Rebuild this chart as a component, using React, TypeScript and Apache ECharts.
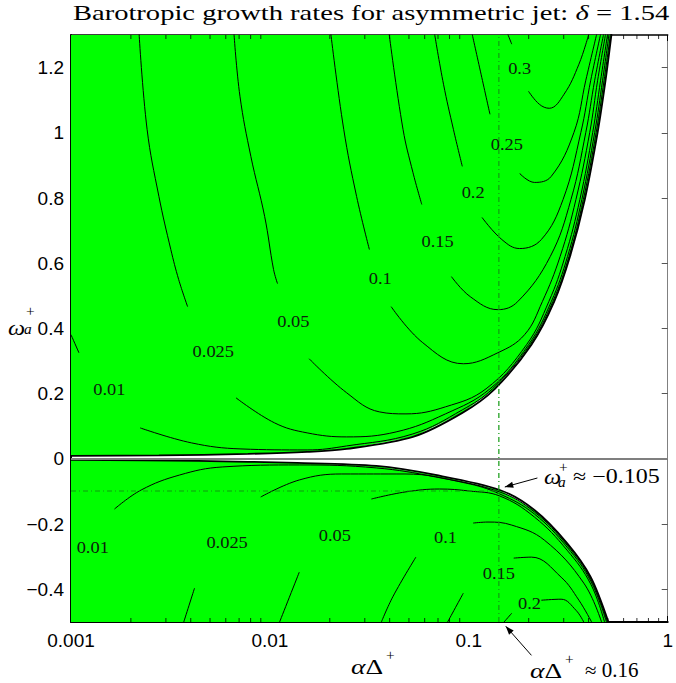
import React, { useEffect, useRef } from "react";
import * as echarts from "echarts";

// ---------- axes ----------
const xMin = 0.001;
const xMax = 1;
const yMin = -0.5;
const yMax = 1.3;
const yTicks = [-0.4, -0.2, 0, 0.2, 0.4, 0.6, 0.8, 1, 1.2];
const xMinorTicks = [
  0.002, 0.003, 0.004, 0.005, 0.006, 0.007, 0.008, 0.009,
  0.02, 0.03, 0.04, 0.05, 0.06, 0.07, 0.08, 0.09,
  0.2, 0.3, 0.4, 0.5, 0.6, 0.7, 0.8, 0.9,
];

// ---------- unstable-region boundaries ----------
const upperBoundary = [
  [0.001, 0.0092], [0.002767, 0.0108], [0.007749, 0.0154], [0.015394, 0.0215],
  [0.024322, 0.0307], [0.052356, 0.0676], [0.092743, 0.1413], [0.13527, 0.2151],
  [0.20654, 0.3502], [0.2687, 0.4823], [0.32262, 0.6206], [0.38297, 0.7957],
  [0.44443, 1.0015], [0.4871, 1.1613], [0.52166, 1.3026],
];
const lowerBoundary = [
  [0.001, -0.0031], [0.004373, -0.0061], [0.013732, -0.0123], [0.034277, -0.0215],
  [0.068095, -0.0492], [0.14322, -0.0952], [0.21373, -0.1567], [0.31173, -0.2581],
  [0.4103, -0.3625], [0.50403, -0.5008],
];

// ---------- upper contours (omega > 0) ----------
const up010A = [[0.001, 0.381], [0.001096, 0.3257]];
const up010B = [
  [0.002227, 0.0952], [0.004037, 0.0492], [0.007153, 0.0307], [0.015394, 0.0276],
  [0.024322, 0.0399], [0.052356, 0.0768], [0.092743, 0.1505], [0.13147, 0.2151],
  [0.203, 0.3502], [0.2642, 0.4823], [0.31893, 0.6206], [0.37652, 0.7957],
  [0.43692, 1.0015], [0.47873, 1.1613], [0.51575, 1.3026],
];
const up025A = [
  [0.0022, 1.3026], [0.002413, 1.0108], [0.002767, 0.8049], [0.003176, 0.6421],
  [0.003479, 0.5499], [0.003857, 0.467],
];
const up025B = [
  [0.006753, 0.1874], [0.010554, 0.1106], [0.015394, 0.0799], [0.024322, 0.0676],
  [0.043094, 0.0829], [0.076343, 0.1382], [0.12776, 0.2151], [0.19953, 0.3502],
  [0.2597, 0.4823], [0.31354, 0.6206], [0.37007, 0.7957], [0.42946, 1.0015],
  [0.47054, 1.1613], [0.50699, 1.3026],
];
const up050A = [
  [0.0066, 1.3026], [0.007071, 1.1121], [0.00802, 0.9278], [0.009412, 0.7435],
  [0.010433, 0.5806], [0.010921, 0.5376],
];
const up050B = [
  [0.015749, 0.3072], [0.024322, 0.2028], [0.035474, 0.1444], [0.048325, 0.1382],
  [0.076343, 0.1598], [0.12208, 0.2151], [0.19503, 0.3502], [0.2524, 0.4823],
  [0.30472, 0.6206], [0.36172, 0.7957], [0.41975, 1.0015], [0.45993, 1.1613],
  [0.49841, 1.3026],
];
const up100A = [[0.020253, 1.3026], [0.023505, 1.0108], [0.027279, 0.8049], [0.031638, 0.6421]];
const up100B = [
  [0.040695, 0.467], [0.058694, 0.3564], [0.093817, 0.2919], [0.14001, 0.3257],
  [0.1907, 0.381], [0.23423, 0.4823], [0.28774, 0.6206], [0.34565, 0.7957],
  [0.40551, 1.0015], [0.44443, 1.1613], [0.4871, 1.3026],
];
const up150A = [[0.039774, 1.3026], [0.046691, 1.0108], [0.052356, 0.8787], [0.058022, 0.7803]];
const up150B = [
  [0.08177, 0.5591], [0.10162, 0.4977], [0.14001, 0.4578], [0.17601, 0.4823],
  [0.25663, 0.6206], [0.32637, 0.7957], [0.38752, 1.0015], [0.42946, 1.1613],
  [0.47607, 1.3026],
];
const up200A = [[0.067316, 1.3026], [0.074611, 1.149], [0.08366, 1.0108], [0.092743, 0.8971]];
const up200B = [
  [0.11657, 0.7404], [0.14658, 0.6728], [0.18008, 0.6452], [0.23152, 0.6728],
  [0.29778, 0.7957], [0.36599, 1.0015], [0.4103, 1.1613], [0.45993, 1.3026],
];
const up250A = [[0.10397, 1.3026], [0.11524, 1.1797], [0.12776, 1.0568]];
const up250B = [
  [0.18008, 0.8756], [0.21373, 0.8479], [0.25959, 0.8664], [0.33784, 1.0015],
  [0.38752, 1.1613], [0.43944, 1.3026],
];
const up300A = [[0.15699, 1.3026], [0.16436, 1.2719]];
const up300B = [
  [0.19953, 1.1275], [0.22629, 1.0876], [0.25373, 1.0753], [0.30121, 1.1183],
  [0.3577, 1.2104], [0.40103, 1.3026],
];

// ---------- lower contours (omega < 0) ----------
const lo010B = [
  [0.001654, -0.1536], [0.002253, -0.0952], [0.003519, -0.0492], [0.005757, -0.0246],
  [0.01405, -0.0184], [0.034277, -0.0276], [0.068095, -0.0553], [0.14322, -0.1014],
  [0.21373, -0.1628], [0.31173, -0.2642], [0.4103, -0.3687], [0.49841, -0.5008],
];
const lo025A = [[0.003685, -0.5008], [0.004178, -0.3963]];
const lo025B = [
  [0.008991, -0.1167], [0.01405, -0.0645], [0.022977, -0.0461], [0.047772, -0.0461],
  [0.09598, -0.0737], [0.14322, -0.1075], [0.21373, -0.169], [0.31173, -0.2704],
  [0.4103, -0.3748], [0.49273, -0.5008],
];
const lo050A = [[0.011174, -0.5008], [0.01405, -0.3472]];
const lo050B = [
  [0.032374, -0.1229], [0.047772, -0.1014], [0.071285, -0.0922], [0.10046, -0.0983],
  [0.14322, -0.1137], [0.21373, -0.1782], [0.31173, -0.2796], [0.4103, -0.384],
  [0.48156, -0.5008],
];
const lo100A = [[0.0363, -0.5008], [0.041638, -0.4209], [0.054184, -0.3011]];
const lo100B = [
  [0.10516, -0.1966], [0.12488, -0.1935], [0.16436, -0.2028], [0.23962, -0.2488],
  [0.37874, -0.381], [0.46531, -0.5008],
];
const lo150A = [[0.07811, -0.5008], [0.093817, -0.4117]];
const lo150B = [
  [0.16815, -0.3041], [0.20654, -0.3011], [0.29103, -0.3625], [0.3577, -0.4332],
  [0.415, -0.5008],
];
const lo200A = [[0.14998, -0.5008], [0.16436, -0.4731]];
const lo200B = [[0.23152, -0.4332], [0.29103, -0.4301], [0.34565, -0.4639], [0.37874, -0.5008]];

// ---------- contour labels ----------
const upperLevels = ["0.01", "0.025", "0.05", "0.1", "0.15", "0.2", "0.25", "0.3"];
const upperLabelX = [0.00156, 0.005193, 0.013115, 0.035885, 0.069664, 0.10516, 0.15522, 0.18008];
const upperLabelY = [0.212, 0.3287, 0.4209, 0.553, 0.6667, 0.8172, 0.9616, 1.1951];
const lowerLevels = ["0.01", "0.025", "0.05", "0.1", "0.15", "0.2"];
const lowerLabelX = [0.001286, 0.006094, 0.021207, 0.076343, 0.14159, 0.20184];
const lowerLabelY = [-0.2734, -0.2581, -0.2366, -0.2427, -0.3533, -0.4455];

// ---------- reference lines / annotations ----------
const zeroLine = [[0.001, 0], [1, 0]];
const markAlpha = 0.1416;
const markOmega = -0.0983;
const arrowOmega = [[0.2212, -0.0584], [0.1517, -0.086]];
const arrowAlpha = [[0.2065, -0.6022], [0.1534, -0.5131]];

const contourPieces = [
  up010A, up010B, up025A, up025B, up050A, up050B, up100A, up100B, up150A, up150B,
  up200A, up200B, up250A, up250B, up300A, up300B,
  lo010B, lo025A, lo025B, lo050A, lo050B, lo100A, lo100B, lo150A, lo150B, lo200A, lo200B,
];

const SERIF = "Liberation Serif";
const SANS = "Liberation Sans";

function T(
  x: number, y: number, text: string, size: number,
  italic = false, sx = 1.2, rich: any = null, align = "left"
) {
  const style: any = {
    text,
    fontFamily: SERIF,
    fontSize: size,
    fontStyle: italic ? "italic" : "normal",
    fill: "#000000",
    align,
    verticalAlign: "middle",
  };
  if (rich) style.rich = rich;
  return { type: "text", x, y, scaleX: sx, silent: true, style };
}

const italicRich = (size: number) => ({
  i: { fontFamily: SERIF, fontSize: size, fontStyle: "italic", fill: "#000000" },
});

export default function App() {
  const ref = useRef<HTMLDivElement>(null);
  useEffect(() => {
    if (!ref.current) return;
    const chart = echarts.init(ref.current, undefined, { renderer: "svg" });
    const regions = [
      [...upperBoundary, [0.001, 1.3026]],
      [...lowerBoundary, [0.001, -0.5008]],
    ];
    const arrows = [arrowOmega, arrowAlpha];
    const labelSeries = (xs: number[], ys: number[], texts: string[]) => ({
      type: "custom",
      clip: false,
      silent: true,
      z: 8,
      data: xs.map((x, i) => [x, ys[i]]),
      renderItem: (params: any, api: any) => {
        const p = api.coord([api.value(0), api.value(1)]);
        return {
          type: "text",
          x: p[0],
          y: p[1],
          scaleX: 1.15,
          style: {
            text: texts[params.dataIndex],
            fontFamily: SERIF,
            fontSize: 16,
            fill: "#0d200d",
            align: "center",
            verticalAlign: "middle",
          },
        };
      },
    });
    const fmtY = (v: number) => {
      const r = Number(v.toFixed(2));
      return r < 0 ? "\u2212" + String(Math.abs(r)) : String(r);
    };
    const fmtX = (v: number) => String(Number(Number(v).toPrecision(4)));
    const option: any = {
      animation: false,
      backgroundColor: "#fff",
      grid: { left: 71, right: 1, top: 35, bottom: 61, containLabel: false },
      xAxis: [
        {
          type: "log",
          logBase: 10,
          min: xMin,
          max: xMax,
          position: "bottom",
          axisLine: { show: true, onZero: false, lineStyle: { color: "#000", width: 2 } },
          axisTick: { show: true, inside: true, length: 6, lineStyle: { color: "#000", width: 1 } },
          axisLabel: { show: true, fontFamily: SANS, fontSize: 19, color: "#000", margin: 9, formatter: fmtX },
          splitLine: { show: false },
        },
        {
          type: "log",
          logBase: 10,
          min: xMin,
          max: xMax,
          position: "top",
          axisLine: { show: true, onZero: false, lineStyle: { color: "#000", width: 1.5 } },
          axisTick: { show: true, inside: true, length: 6, lineStyle: { color: "#000", width: 1 } },
          axisLabel: { show: false },
          splitLine: { show: false },
        },
      ],
      yAxis: [
        {
          type: "value",
          min: yMin,
          max: yMax,
          position: "left",
          axisLine: { show: true, onZero: false, lineStyle: { color: "#000", width: 2 } },
          axisTick: { show: true, inside: true, length: 6, customValues: yTicks, lineStyle: { color: "#000" } },
          axisLabel: { show: true, customValues: yTicks, fontFamily: SANS, fontSize: 19, color: "#000", margin: 7, formatter: fmtY },
          splitLine: { show: false },
        },
        {
          type: "value",
          min: yMin,
          max: yMax,
          position: "right",
          axisLine: { show: true, onZero: false, lineStyle: { color: "#808080", width: 1 } },
          axisTick: { show: true, inside: true, length: 6, customValues: yTicks, lineStyle: { color: "#555" } },
          axisLabel: { show: false },
          splitLine: { show: false },
        },
      ],
      graphic: [
        T(371, 13, "Barotropic growth rates for asymmetric jet: {i|\u03b4} = 1.54", 21, false, 1.36, italicRich(21), "center"),
        // y-axis name
        T(8, 327, "\u03c9", 22, true, 1.1),
        T(26, 311, "+", 14, false, 1.1),
        T(24, 329, "a", 14, true, 1.1),
        // x-axis name
        T(351, 666, "{i|\u03b1}\u0394", 22, false, 1.25, italicRich(22)),
        T(386, 655, "+", 14, false, 1.1),
        // omega annotation
        T(544, 476, "\u03c9", 22, true, 1.1),
        T(559, 467, "+", 14, false, 1.1),
        T(558, 482, "a", 14, true, 1.1),
        T(573, 476, "\u2248 \u22120.105", 20, false, 1.2),
        // alpha annotation
        T(530, 670, "{i|\u03b1}\u0394", 22, false, 1.25, italicRich(22)),
        T(565, 659, "+", 14, false, 1.1),
        T(585, 670, "\u2248 0.16", 20, false, 1.05),
      ],
      series: [
        {
          type: "custom",
          clip: true,
          silent: true,
          z: 1,
          data: [[0.01, 0.5], [0.01, -0.3]],
          renderItem: (params: any, api: any) => {
            const pts = regions[params.dataIndex].map((p) => api.coord(p));
            return { type: "polygon", shape: { points: pts }, style: { fill: "#00ff00", stroke: "none" } };
          },
        },
        ...contourPieces.map((d) => ({
          type: "line",
          data: d,
          showSymbol: false,
          symbol: "none",
          smooth: 0.4,
          clip: true,
          silent: true,
          z: 3,
          lineStyle: { color: "#000", width: 1 },
        })),
        ...[upperBoundary, lowerBoundary].map((d) => ({
          type: "line",
          data: d,
          showSymbol: false,
          symbol: "none",
          smooth: 0.3,
          clip: true,
          silent: true,
          z: 4,
          lineStyle: { color: "#000", width: 1.8 },
        })),
        {
          type: "line",
          data: zeroLine,
          showSymbol: false,
          symbol: "none",
          silent: true,
          z: 5,
          lineStyle: { color: "#7f7f7f", width: 2 },
        },
        {
          type: "line",
          data: [[markAlpha, yMin], [markAlpha, yMax]],
          showSymbol: false,
          symbol: "none",
          silent: true,
          z: 6,
          lineStyle: { color: "#119a11", width: 1.2, type: [5, 3, 1, 3] },
        },
        {
          type: "line",
          data: [[xMin, markOmega], [markAlpha, markOmega]],
          showSymbol: false,
          symbol: "none",
          silent: true,
          z: 6,
          lineStyle: { color: "#119a11", width: 1.2, type: [5, 3, 1, 3] },
        },
        {
          type: "scatter",
          data: xMinorTicks.map((v) => [v, yMin]),
          symbol: "rect",
          symbolSize: [1, 4],
          symbolOffset: [0, -2],
          clip: false,
          silent: true,
          z: 9,
          itemStyle: { color: "#000" },
        },
        {
          type: "scatter",
          data: xMinorTicks.map((v) => [v, yMax]),
          symbol: "rect",
          symbolSize: [1, 4],
          symbolOffset: [0, 2],
          clip: false,
          silent: true,
          z: 9,
          itemStyle: { color: "#000" },
        },
        {
          type: "custom",
          clip: false,
          silent: true,
          z: 9,
          data: arrows.map((a) => a[0]),
          renderItem: (params: any, api: any) => {
            const seg = arrows[params.dataIndex];
            const a = api.coord(seg[0]);
            const b = api.coord(seg[1]);
            const ang = Math.atan2(b[1] - a[1], b[0] - a[0]);
            const L = 9;
            const w = 0.35;
            const p1 = [b[0] - L * Math.cos(ang - w), b[1] - L * Math.sin(ang - w)];
            const p2 = [b[0] - L * Math.cos(ang + w), b[1] - L * Math.sin(ang + w)];
            return {
              type: "group",
              children: [
                { type: "line", shape: { x1: a[0], y1: a[1], x2: b[0], y2: b[1] }, style: { stroke: "#000", lineWidth: 1 } },
                { type: "polygon", shape: { points: [b, p1, p2] }, style: { fill: "#000" } },
              ],
            };
          },
        },
        labelSeries(upperLabelX, upperLabelY, upperLevels),
        labelSeries(lowerLabelX, lowerLabelY, lowerLevels),
      ],
    };
    chart.setOption(option);
    return () => chart.dispose();
  }, []);
  return (
    <div
      ref={ref}
      style={{ position: "fixed", left: 0, top: 0, width: 676, height: 683, background: "#fff" }}
    />
  );
}
